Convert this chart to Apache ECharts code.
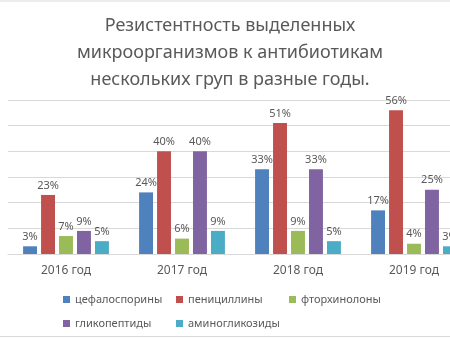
<!DOCTYPE html>
<html><head><meta charset="utf-8">
<script src="https://cdn.jsdelivr.net/npm/echarts@6/dist/echarts.min.js"></script>
<style>html,body{margin:0;padding:0;overflow:hidden;background:#fff;width:450px;height:338px}#c{width:480px;height:338px}</style>
</head><body><div id="c"></div>
<script>
const categories = ['2016 год', '2017 год', '2018 год', '2019 год'];
const seriesNames = ['цефалоспорины', 'пенициллины', 'фторхинолоны', 'гликопептиды', 'аминогликозиды'];
const cephalosporins = [3, 24, 33, 17];
const penicillins = [23, 40, 51, 56];
const fluoroquinolones = [7, 6, 9, 4];
const glycopeptides = [9, 40, 33, 25];
const aminoglycosides = [5, 9, 5, 3];
const colors = ['#4F81BD', '#C0504D', '#9BBB59', '#8064A2', '#4BACC6'];
const allValues = [cephalosporins, penicillins, fluoroquinolones, glycopeptides, aminoglycosides];
const FONT = '"Noto Sans", sans-serif';
const chart = echarts.init(document.getElementById('c'));
const legendPos = [[58, 289], [171, 289], [284, 289], [58, 313], [171, 313]];
chart.setOption({
  animation: false,
  color: colors,
  title: {
    text: 'Резистентность выделенных\nмикроорганизмов к антибиотикам\nнескольких груп в разные годы.',
    left: 225, top: 7, textAlign: 'center',
    textStyle: {color: '#595959', fontSize: 18, fontWeight: 'normal', lineHeight: 27, fontFamily: FONT}
  },
  legend: seriesNames.map((n, i) => ({
    left: legendPos[i][0], top: legendPos[i][1], data: [n],
    itemWidth: 7, itemHeight: 7, icon: 'rect',
    textStyle: {color: '#595959', fontSize: 11, fontFamily: FONT}
  })),
  grid: {left: 8, right: 8, top: 100, bottom: 84},
  xAxis: {
    type: 'category', data: categories,
    axisLine: {lineStyle: {color: '#D9D9D9'}}, axisTick: {show: false},
    axisLabel: {color: '#595959', fontSize: 12, fontFamily: FONT, margin: 11}
  },
  yAxis: {
    type: 'value', min: 0, max: 60, interval: 10,
    axisLabel: {show: false}, axisLine: {show: false}, axisTick: {show: false},
    splitLine: {lineStyle: {color: '#D9D9D9'}}
  },
  graphic: [
    {type: 'line', shape: {x1: 0, y1: 1, x2: 480, y2: 1}, style: {stroke: '#D9D9D9', lineWidth: 1}},
    {type: 'line', shape: {x1: 0, y1: 336.5, x2: 480, y2: 336.5}, style: {stroke: '#D9D9D9', lineWidth: 1}}
  ],
  series: seriesNames.map((n, i) => ({
    name: n, type: 'bar', data: allValues[i], barGap: '29%', barCategoryGap: '26%',
    label: {show: true, position: 'top', formatter: '{c}%', color: '#595959', fontSize: 11, fontFamily: FONT, distance: 4}
  }))
});
</script></body></html>
